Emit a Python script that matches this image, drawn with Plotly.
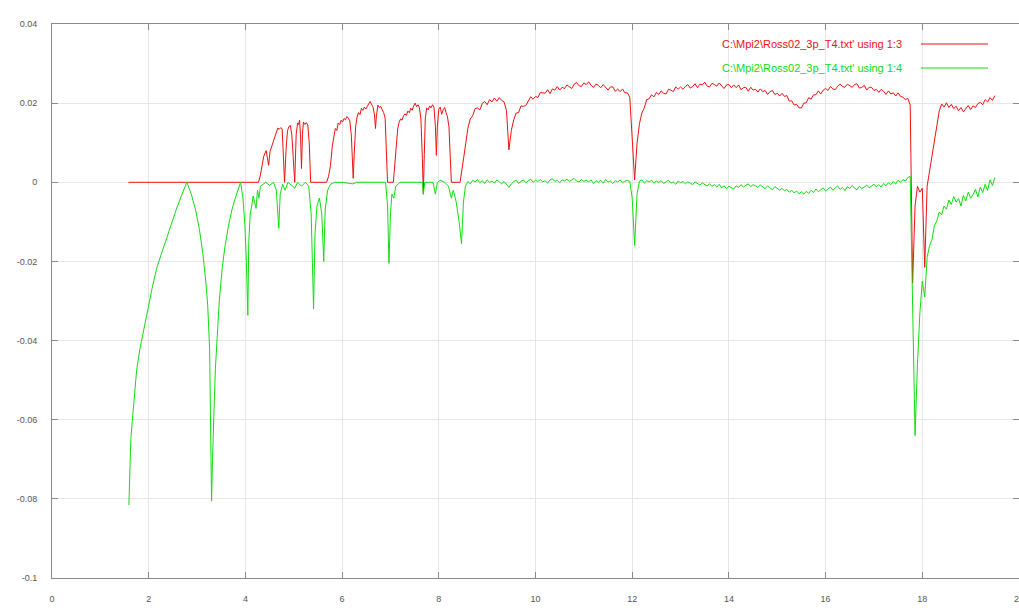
import numpy as np
import plotly.graph_objects as go

# ---------------------------------------------------------------
# Column 3 and column 4 of C:\Mpi2\Ross02_3p_T4.txt versus column 1
# Early part (x < 8.6) is listed as (x, y) pairs, the rest is on a
# regular 0.05 step in x.
# ---------------------------------------------------------------
red_pairs_a = [
    (1.58, 0.0), (4.27, 0.0), (4.31, 0.0018), (4.35, 0.0045), (4.38, 0.0066),
    (4.43, 0.0080), (4.46, 0.0062), (4.48, 0.0043), (4.51, 0.0078), (4.54, 0.0090),
    (4.58, 0.0104), (4.61, 0.0118), (4.64, 0.0130), (4.67, 0.0137), (4.70, 0.0134),
    (4.73, 0.0138), (4.76, 0.0135), (4.79, 0.0060), (4.81, 0.0), (4.84, 0.0080),
    (4.87, 0.0130), (4.90, 0.0141), (4.93, 0.0143), (4.96, 0.0120), (4.99, 0.0050),
    (5.02, 0.0), (5.05, 0.0120), (5.08, 0.0150), (5.10, 0.0146), (5.12, 0.0157),
    (5.14, 0.0120), (5.16, 0.0035), (5.18, 0.0120), (5.20, 0.0152), (5.23, 0.0146),
    (5.26, 0.0151), (5.29, 0.0145), (5.32, 0.0100), (5.35, 0.0), (5.68, 0.0),
    (5.72, 0.0015), (5.76, 0.0043), (5.80, 0.0094), (5.83, 0.0120), (5.86, 0.0136),
    (5.89, 0.0131), (5.92, 0.0150), (5.95, 0.0146), (5.98, 0.0157), (6.01, 0.0152),
    (6.04, 0.0161), (6.07, 0.0158), (6.10, 0.0166), (6.13, 0.0162), (6.16, 0.0155),
    (6.19, 0.0120), (6.21, 0.0060), (6.23, 0.0010), (6.25, 0.0070), (6.28, 0.0140),
    (6.31, 0.0165), (6.34, 0.0176), (6.37, 0.0171), (6.40, 0.0187), (6.43, 0.0182),
    (6.46, 0.0190), (6.49, 0.0185), (6.52, 0.0194), (6.55, 0.0198), (6.58, 0.0204),
    (6.61, 0.0196), (6.64, 0.0190), (6.67, 0.0170), (6.69, 0.0136), (6.71, 0.0168),
    (6.74, 0.0195), (6.77, 0.0189), (6.80, 0.0192), (6.83, 0.0183), (6.86, 0.0176),
    (6.89, 0.0162), (6.91, 0.0110), (6.94, 0.0), (7.06, 0.0), (7.09, 0.0040),
    (7.12, 0.0094), (7.15, 0.0135), (7.18, 0.0152), (7.21, 0.0160), (7.24, 0.0157),
    (7.27, 0.0168), (7.30, 0.0173), (7.33, 0.0169), (7.36, 0.0180), (7.39, 0.0176),
    (7.42, 0.0187), (7.45, 0.0182), (7.48, 0.0193), (7.51, 0.0200), (7.54, 0.0191),
    (7.57, 0.0196), (7.60, 0.0188), (7.63, 0.0160), (7.66, 0.0060), (7.68, -0.0030),
    (7.70, 0.0070), (7.72, 0.0160), (7.75, 0.0188), (7.78, 0.0183), (7.81, 0.0193),
    (7.84, 0.0188), (7.87, 0.0196), (7.90, 0.0190), (7.93, 0.0140), (7.95, 0.0068),
    (7.97, 0.0140), (8.00, 0.0185), (8.03, 0.0190), (8.06, 0.0172), (8.09, 0.0183),
    (8.12, 0.0189), (8.15, 0.0176), (8.18, 0.0165), (8.21, 0.0140), (8.24, 0.0060),
    (8.26, 0.0), (8.44, 0.0), (8.48, 0.0030), (8.52, 0.0060), (8.56, 0.0100),
]

green_pairs_a = [
    (1.59, -0.0816), (1.61, -0.0720), (1.63, -0.0650), (1.66, -0.0604), (1.70, -0.0535),
    (1.75, -0.0475), (1.82, -0.0420), (1.90, -0.0369), (2.00, -0.0310), (2.07, -0.0268),
    (2.17, -0.0215), (2.28, -0.0175), (2.38, -0.0135), (2.48, -0.0099), (2.58, -0.0065),
    (2.68, -0.0033), (2.79, 0.0), (2.88, -0.0030), (2.97, -0.0070), (3.05, -0.0120),
    (3.12, -0.0180), (3.18, -0.0250), (3.22, -0.0310), (3.26, -0.0420), (3.28, -0.0560),
    (3.30, -0.0806), (3.32, -0.0700), (3.34, -0.0640), (3.36, -0.0540), (3.38, -0.0470),
    (3.41, -0.0400), (3.46, -0.0300), (3.52, -0.0217), (3.58, -0.0160), (3.65, -0.0110),
    (3.72, -0.0070), (3.79, -0.0040), (3.85, -0.0018), (3.90, 0.0), (3.95, -0.0040),
    (3.99, -0.0110), (4.02, -0.0200), (4.05, -0.0336), (4.07, -0.0150), (4.10, -0.0080),
    (4.13, -0.0060), (4.16, -0.0035), (4.19, -0.0050), (4.22, -0.0066), (4.25, -0.0020),
    (4.28, -0.0040), (4.31, -0.0010), (4.36, -0.0005), (4.42, 0.0), (4.50, -0.0008),
    (4.58, 0.0), (4.64, -0.0020), (4.69, -0.0116), (4.72, -0.0030), (4.77, -0.0005),
    (4.82, -0.0020), (4.88, 0.0), (4.96, -0.0008), (5.02, -0.0015), (5.08, 0.0),
    (5.16, -0.0010), (5.24, 0.0), (5.31, -0.0010), (5.36, -0.0080), (5.41, -0.0320),
    (5.44, -0.0130), (5.48, -0.0060), (5.53, -0.0040), (5.58, -0.0080), (5.62, -0.0200),
    (5.65, -0.0070), (5.70, -0.0020), (5.76, -0.0005), (5.85, 0.0), (6.00, 0.0),
    (6.22, -0.0004), (6.30, 0.0), (6.68, 0.0), (6.90, 0.0), (6.94, -0.0060),
    (6.97, -0.0205), (7.00, -0.0080), (7.03, -0.0030), (7.07, -0.0040), (7.11, -0.0010),
    (7.20, 0.0), (7.66, 0.0), (7.68, -0.0030), (7.71, 0.0), (7.88, 0.0),
    (7.93, -0.0030), (7.97, 0.0), (8.03, 0.0005), (8.12, 0.0), (8.20, -0.0010),
    (8.26, -0.0040), (8.30, -0.0020), (8.36, -0.0050), (8.42, -0.0100), (8.47, -0.0155),
    (8.51, -0.0050), (8.55, -0.0010),
]

# regular part: x = 8.60, 8.65, ... 19.50
x_start_b = 8.60
x_step_b = 0.05

red_y_b = [
    0.0136, 0.0160, 0.0168, 0.0186, 0.0188, 0.0183, 0.0200, 0.0204, 0.0196, 0.0209,
    0.0203, 0.0213, 0.0205, 0.0214, 0.0207, 0.0203, 0.0181, 0.0082, 0.0131, 0.0158,
    0.0175, 0.0176, 0.0193, 0.0192, 0.0194, 0.0206, 0.0216, 0.0210, 0.0217, 0.0214,
    0.0227, 0.0226, 0.0225, 0.0234, 0.0224, 0.0236, 0.0233, 0.0242, 0.0233, 0.0240,
    0.0237, 0.0246, 0.0242, 0.0237, 0.0248, 0.0252, 0.0244, 0.0242, 0.0251, 0.0247,
    0.0254, 0.0245, 0.0240, 0.0248, 0.0245, 0.0239, 0.0247, 0.0240, 0.0233, 0.0241,
    0.0241, 0.0230, 0.0236, 0.0229, 0.0236, 0.0226, 0.0226, 0.0215, 0.0105, 0.0006,
    0.0098, 0.0148, 0.0175, 0.0188, 0.0209, 0.0211, 0.0221, 0.0216, 0.0227, 0.0222,
    0.0231, 0.0225, 0.0223, 0.0235, 0.0233, 0.0229, 0.0241, 0.0235, 0.0241, 0.0235,
    0.0242, 0.0247, 0.0238, 0.0242, 0.0249, 0.0239, 0.0248, 0.0246, 0.0253, 0.0243,
    0.0241, 0.0250, 0.0247, 0.0243, 0.0251, 0.0243, 0.0237, 0.0246, 0.0247, 0.0239,
    0.0246, 0.0239, 0.0246, 0.0234, 0.0239, 0.0240, 0.0230, 0.0240, 0.0233, 0.0235,
    0.0228, 0.0236, 0.0229, 0.0232, 0.0222, 0.0229, 0.0232, 0.0222, 0.0225, 0.0218,
    0.0225, 0.0217, 0.0219, 0.0205, 0.0206, 0.0195, 0.0197, 0.0188, 0.0188, 0.0200,
    0.0201, 0.0214, 0.0210, 0.0221, 0.0221, 0.0231, 0.0223, 0.0233, 0.0237, 0.0232,
    0.0242, 0.0236, 0.0234, 0.0243, 0.0248, 0.0242, 0.0240, 0.0248, 0.0245, 0.0240,
    0.0247, 0.0249, 0.0238, 0.0240, 0.0245, 0.0233, 0.0240, 0.0240, 0.0232, 0.0235,
    0.0227, 0.0235, 0.0230, 0.0222, 0.0231, 0.0223, 0.0226, 0.0218, 0.0226, 0.0217,
    0.0215, 0.0209, 0.0212, 0.0195, -0.0255, -0.0060, -0.0010, -0.0025, -0.0015, -0.0215,
    -0.0010, 0.0030, 0.0058, 0.0110, 0.0150, 0.0180, 0.0198, 0.0190, 0.0201, 0.0189,
    0.0197, 0.0186, 0.0192, 0.0181, 0.0189, 0.0178, 0.0186, 0.0194, 0.0184, 0.0193,
    0.0189, 0.0199, 0.0202, 0.0196, 0.0209, 0.0203, 0.0214, 0.0207, 0.0219,
]

green_y_b = [
    0.0002, -0.0004, 0.0005, 0.0001, 0.0007, -0.0001, 0.0004, -0.0003, 0.0006, 0.0000,
    0.0003, -0.0002, 0.0006, 0.0001, -0.0004, 0.0002, -0.0006, -0.0013, -0.0004, 0.0002,
    0.0005, -0.0003, 0.0002, 0.0006, -0.0001, 0.0004, 0.0008, 0.0000, 0.0005, 0.0002,
    0.0007, 0.0001, 0.0004, -0.0002, 0.0006, 0.0009, 0.0002, 0.0005, -0.0001, 0.0006,
    0.0003, 0.0008, 0.0002, 0.0006, 0.0010, 0.0003, 0.0001, 0.0007, 0.0002, 0.0005,
    0.0001, 0.0006, -0.0003, 0.0004, 0.0000, 0.0005, -0.0002, 0.0007, 0.0001, 0.0003,
    -0.0003, 0.0004, 0.0001, 0.0006, -0.0001, 0.0003, 0.0005, 0.0002, -0.0040, -0.0160,
    -0.0030, 0.0003, 0.0006, -0.0002, 0.0004, 0.0001, 0.0005, -0.0001, 0.0003, 0.0000,
    0.0004, -0.0003, 0.0002, 0.0005, -0.0002, 0.0001, -0.0005, 0.0003, -0.0001, 0.0002,
    -0.0004, 0.0001, -0.0002, -0.0006, 0.0001, -0.0003, -0.0007, -0.0002, -0.0005, -0.0009,
    -0.0004, -0.0010, -0.0006, -0.0012, -0.0005, -0.0014, -0.0009, -0.0016, -0.0010, -0.0013,
    -0.0017, -0.0009, -0.0013, -0.0006, -0.0012, -0.0008, -0.0004, -0.0011, -0.0006, -0.0009,
    -0.0013, -0.0007, -0.0011, -0.0016, -0.0009, -0.0014, -0.0019, -0.0011, -0.0016, -0.0020,
    -0.0015, -0.0022, -0.0018, -0.0025, -0.0020, -0.0027, -0.0022, -0.0029, -0.0024, -0.0030,
    -0.0023, -0.0028, -0.0020, -0.0026, -0.0017, -0.0024, -0.0019, -0.0014, -0.0022, -0.0016,
    -0.0012, -0.0020, -0.0015, -0.0009, -0.0018, -0.0013, -0.0021, -0.0011, -0.0016, -0.0008,
    -0.0015, -0.0019, -0.0010, -0.0016, -0.0012, -0.0007, -0.0014, -0.0009, -0.0005, -0.0011,
    -0.0006, -0.0012, -0.0003, -0.0009, -0.0001, -0.0006, 0.0002, -0.0004, 0.0005, 0.0000,
    0.0007, 0.0003, 0.0012, 0.0015, -0.0300, -0.0640, -0.0460, -0.0330, -0.0250, -0.0290,
    -0.0190, -0.0160, -0.0145, -0.0110, -0.0098, -0.0075, -0.0082, -0.0060, -0.0068, -0.0045,
    -0.0056, -0.0036, -0.0050, -0.0041, -0.0060, -0.0033, -0.0047, -0.0025, -0.0040, -0.0031,
    -0.0018, -0.0037, -0.0012, -0.0026, -0.0005, -0.0021, 0.0006, -0.0008, 0.0012,
]

x_ticks = [0, 2, 4, 6, 8, 10, 12, 14, 16, 18, 20]
y_ticks = [0.04, 0.02, 0, -0.02, -0.04, -0.06, -0.08, -0.1]
y_tick_text = ["0.04", "0.02", "0", "-0.02", "-0.04", "-0.06", "-0.08", "-0.1"]

title_red = "C:\\Mpi2\\Ross02_3p_T4.txt' using 1:3"
title_green = "C:\\Mpi2\\Ross02_3p_T4.txt' using 1:4"

RED = "#f01010"
GREEN = "#10dd10"

# ---------------------------------------------------------------
x_b = np.round(x_start_b + x_step_b * np.arange(len(red_y_b)), 2)

red_x = [p[0] for p in red_pairs_a] + list(x_b)
red_y = [p[1] for p in red_pairs_a] + red_y_b
green_x = [p[0] for p in green_pairs_a] + list(x_b)
green_y = [p[1] for p in green_pairs_a] + green_y_b

fig = go.Figure()
fig.add_trace(go.Scatter(x=red_x, y=red_y, mode="lines",
                         line=dict(color=RED, width=1), name=title_red,
                         showlegend=False))
fig.add_trace(go.Scatter(x=green_x, y=green_y, mode="lines",
                         line=dict(color=GREEN, width=1), name=title_green,
                         showlegend=False))

W, H = 1019, 612
L, R, T, B = 52, 0, 24, 34
pw, ph = W - L - R, H - T - B


def px_to_paper(px, py):
    return (px - L) / pw, (H - B - py) / ph


# key: right-aligned titles followed by a short sample line
for title, colour, py in [(title_red, RED, 44), (title_green, GREEN, 68)]:
    tx, ty = px_to_paper(904, py)
    fig.add_annotation(x=tx, y=ty, xref="paper", yref="paper", text=title,
                       showarrow=False, xanchor="right", yanchor="middle",
                       font=dict(family="Liberation Sans, Arial", size=11, color=colour))
    x0, _ = px_to_paper(921, py)
    x1, _ = px_to_paper(988, py)
    fig.add_shape(type="line", xref="paper", yref="paper", x0=x0, x1=x1, y0=ty, y1=ty,
                  line=dict(color=colour, width=1))

axis_font = dict(family="Liberation Sans, Arial", size=9, color="#555555")

fig.update_xaxes(range=[0, 20], tickmode="array", tickvals=x_ticks,
                 ticktext=[str(v) for v in x_ticks],
                 ticks="inside", ticklen=6, tickcolor="#8a8a8a",
                 showline=True, linecolor="#8a8a8a", linewidth=1, mirror="ticks",
                 showgrid=True, gridcolor="#e6e6e6", gridwidth=1,
                 zeroline=False, tickfont=axis_font, ticklabelstandoff=12,
                 ticklabeloverflow="allow", automargin=False)
fig.update_yaxes(range=[-0.1, 0.04], tickmode="array", tickvals=y_ticks,
                 ticktext=y_tick_text,
                 ticks="inside", ticklen=6, tickcolor="#8a8a8a",
                 showline=True, linecolor="#8a8a8a", linewidth=1, mirror="ticks",
                 showgrid=True, gridcolor="#e6e6e6", gridwidth=1,
                 zeroline=False, tickfont=axis_font, ticklabelstandoff=12,
                 automargin=False)

fig.update_layout(width=W, height=H,
                  margin=dict(l=L, r=R, t=T, b=B, pad=0),
                  paper_bgcolor="white", plot_bgcolor="white",
                  showlegend=False)

fig.write_html("out.html")
